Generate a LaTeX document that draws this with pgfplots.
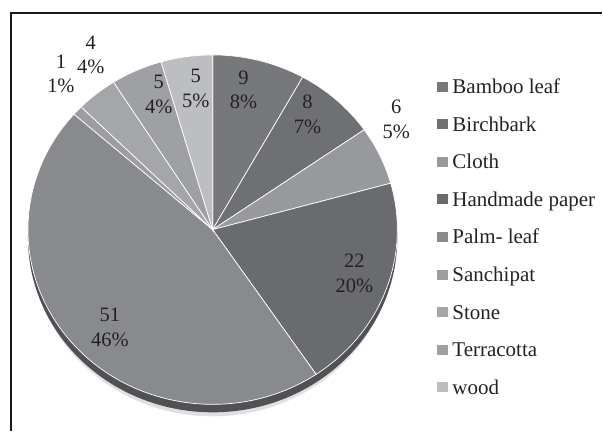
\documentclass[border=0pt]{standalone}
\usepackage{fontspec}
\setmainfont{Liberation Serif}
\usepackage{pgfplots}
\usepackage{pgfplotstable}
\pgfplotsset{compat=1.18}

\definecolor{cBamboo}{HTML}{77787C}
\definecolor{cBirch}{HTML}{6F7074}
\definecolor{cCloth}{HTML}{98999D}
\definecolor{cHand}{HTML}{6A6B6F}
\definecolor{cPalm}{HTML}{898A8E}
\definecolor{cSanchi}{HTML}{9C9DA0}
\definecolor{cStone}{HTML}{A5A6A9}
\definecolor{cTerra}{HTML}{9FA0A3}
\definecolor{cWood}{HTML}{BDBEC1}
\definecolor{sidec}{HTML}{505154}
\definecolor{txtc}{HTML}{222222}

% value, rounded percent, colour, label centre (x, y)
\pgfplotstableread[col sep=comma]{
name,value,pct,col,lx,ly
Bamboo leaf,9,8,cBamboo,244,342
Birchbark,8,7,cBirch,308,317
Cloth,6,5,cCloth,397,312
Handmade paper,22,20,cHand,355,158
Palm- leaf,51,46,cPalm,110,104
Sanchipat,1,1,cSanchi,61,358
Stone,4,4,cStone,91,377
Terracotta,5,4,cTerra,159,337
wood,5,5,cWood,196,343
}\piedata

\tikzset{
  lbl/.style={align=center, inner sep=0pt, text=txtc, font=\fontsize{20.5}{25}\selectfont},
  leg/.style={anchor=base west, inner sep=0pt, text=txtc, font=\fontsize{21}{25}\selectfont},
}

\begin{document}
\begin{tikzpicture}
\begin{axis}[
    width=603pt, height=432pt, scale only axis,
    xmin=0, xmax=603, ymin=0, ymax=432,
    hide axis, clip=false,
  ]
  % keep the whole canvas in the bounding box
  \path (axis cs:0,0) rectangle (axis cs:603,432);
  % frame (left and top edges)
  \draw[line width=2pt, black!90] (axis cs:11,0) -- (axis cs:11,419) -- (axis cs:603,419);

  % soft shadow and side of the pie
  \fill[black!12] (axis cs:213,190) ellipse[x radius=183pt, y radius=175pt];
  \fill[sidec] (axis cs:213,194) ellipse[x radius=185pt, y radius=175pt];

  % total
  \def\total{0}
  \pgfplotsforeachungrouped \i in {0,...,8}{%
    \pgfplotstablegetelem{\i}{value}\of\piedata
    \pgfmathsetmacro\total{\total+\pgfplotsretval}%
  }

  \def\cum{0}
  \pgfplotsforeachungrouped \i in {0,...,8}{%
    \pgfplotstablegetelem{\i}{value}\of\piedata \let\wval\pgfplotsretval
    \pgfplotstablegetelem{\i}{col}\of\piedata \let\wcol\pgfplotsretval
    \pgfplotstablegetelem{\i}{name}\of\piedata \let\wname\pgfplotsretval
    \pgfmathsetmacro\angA{90-\cum/\total*360}%
    \pgfmathsetmacro\angB{90-(\cum+\wval)/\total*360}%
    \pgfmathsetmacro\cum{\cum+\wval}%
    \pgfmathsetmacro\legy{338-37.6*\i}%
    \pgfmathsetmacro\sqa{340-37.6*\i}%
    \pgfmathsetmacro\sqb{350-37.6*\i}%
    \edef\temp{%
      \noexpand\fill[\wcol, draw=white, line width=0.7pt]
        (axis cs:213,202) -- ++(\angA:185pt and 175pt)
        arc[start angle=\angA, end angle=\angB, x radius=185pt, y radius=175pt] -- cycle;
      \noexpand\fill[\wcol] (axis cs:438,\sqa) rectangle (axis cs:449,\sqb);
      \noexpand\node[leg] at (axis cs:453,\legy) {\wname};
    }\temp
  }
  % data labels on top
  \pgfplotsforeachungrouped \i in {0,...,8}{%
    \pgfplotstablegetelem{\i}{value}\of\piedata \let\wval\pgfplotsretval
    \pgfplotstablegetelem{\i}{pct}\of\piedata \let\wpct\pgfplotsretval
    \pgfplotstablegetelem{\i}{lx}\of\piedata \let\wlx\pgfplotsretval
    \pgfplotstablegetelem{\i}{ly}\of\piedata \let\wly\pgfplotsretval
    \edef\temp{%
      \noexpand\node[lbl] at (axis cs:\wlx,\wly) {\wval\noexpand\\\wpct\noexpand\%};
    }\temp
  }
\end{axis}
\end{tikzpicture}
\end{document}
